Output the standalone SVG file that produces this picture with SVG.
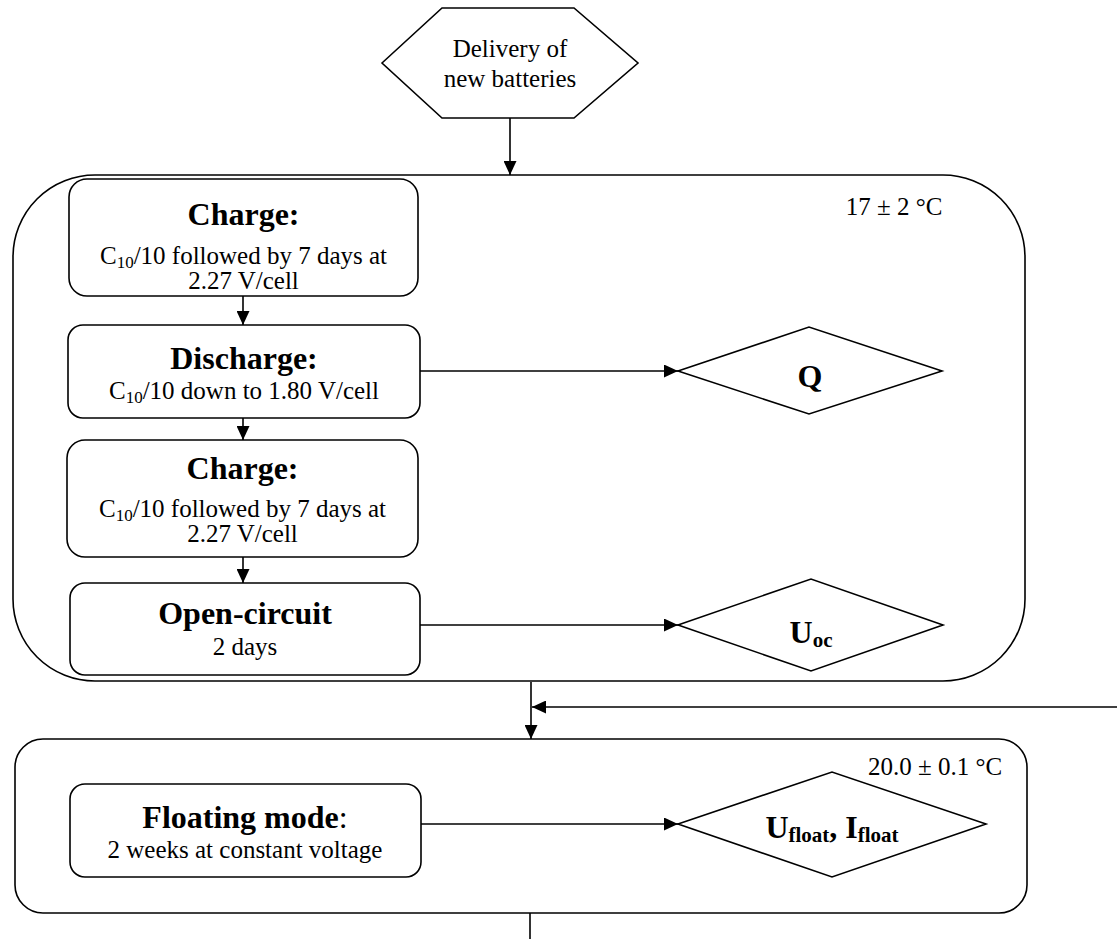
<svg xmlns="http://www.w3.org/2000/svg" width="1117" height="939" viewBox="0 0 1117 939">
<style>
.s{fill:#fff;stroke:#000;stroke-width:1.6}
.c{fill:none;stroke:#000;stroke-width:1.6}
text{font-family:"Liberation Serif","Times New Roman",serif;fill:#000;text-anchor:middle}
.t{font-size:25px}
.b{font-size:32px;font-weight:bold}
.sub{font-size:17px}
.bsub{font-size:21px;font-weight:bold}
</style>
<defs>
<marker id="ah" markerUnits="userSpaceOnUse" markerWidth="14" markerHeight="13" refX="14" refY="6.5" orient="auto">
<path d="M0,0 L14,6.5 L0,13 z" fill="#000"/>
</marker>
</defs>
<rect width="1117" height="939" fill="#fff"/>
<g id="stage1">
<rect class="s" x="13" y="175" width="1012" height="506" rx="82" ry="82"/>
<text class="t" x="894" y="215">17 ± 2 °C</text>
</g>
<g id="stage2">
<rect class="s" x="15" y="739" width="1012" height="174" rx="28" ry="28"/>
<text class="t" x="935" y="775">20.0 ± 0.1 °C</text>
</g>
<g id="delivery">
<polygon class="s" points="382,63 442,8 574,8 638,63 574,118 442,118"/>
<text class="t" x="510" y="57">Delivery of</text>
<text class="t" x="510" y="87">new batteries</text>
</g>
<g id="charge1">
<rect class="s" x="69" y="179" width="349" height="117" rx="18" ry="18"/>
<text class="b" x="243.5" y="225">Charge:</text>
<text class="t" x="243.5" y="264">C<tspan class="sub" dy="4">10</tspan><tspan dy="-4">/10 followed by 7 days at</tspan></text>
<text class="t" x="243.5" y="289">2.27 V/cell</text>
</g>
<g id="discharge">
<rect class="s" x="68" y="325" width="352" height="93" rx="15" ry="15"/>
<text class="b" x="244" y="369">Discharge:</text>
<text class="t" x="244" y="399">C<tspan class="sub" dy="4">10</tspan><tspan dy="-4">/10 down to 1.80 V/cell</tspan></text>
</g>
<g id="charge2">
<rect class="s" x="67" y="440" width="351" height="117" rx="18" ry="18"/>
<text class="b" x="242.5" y="479">Charge:</text>
<text class="t" x="242.5" y="517">C<tspan class="sub" dy="4">10</tspan><tspan dy="-4">/10 followed by 7 days at</tspan></text>
<text class="t" x="242.5" y="542">2.27 V/cell</text>
</g>
<g id="opencircuit">
<rect class="s" x="70" y="583" width="350" height="92" rx="15" ry="15"/>
<text class="b" x="245" y="624">Open-circuit</text>
<text class="t" x="245" y="655">2 days</text>
</g>
<g id="q">
<polygon class="s" points="678,371 809,327 942,371 809,414"/>
<text class="b" x="810" y="387">Q</text>
</g>
<g id="uoc">
<polygon class="s" points="678,625 811,579 943,625 811,671"/>
<text class="b" x="811" y="643">U<tspan class="bsub" dy="4">oc</tspan></text>
</g>
<g id="floating">
<rect class="s" x="70" y="784" width="351" height="93" rx="15" ry="15"/>
<text class="b" x="245" y="828">Floating mode<tspan style="font-weight:normal">:</tspan></text>
<text class="t" x="245" y="858">2 weeks at constant voltage</text>
</g>
<g id="ufloat">
<polygon class="s" points="678,824 832,772 986,824 832,877"/>
<text class="b" x="832" y="838">U<tspan class="bsub" dy="4">float</tspan><tspan dy="-4">, I</tspan><tspan class="bsub" dy="4">float</tspan></text>
</g>
<g id="connectors">
<line class="c" x1="510" y1="118" x2="510" y2="175" marker-end="url(#ah)"/>
<line class="c" x1="243" y1="296" x2="243" y2="325" marker-end="url(#ah)"/>
<line class="c" x1="243" y1="418" x2="243" y2="440" marker-end="url(#ah)"/>
<line class="c" x1="243" y1="557" x2="243" y2="583" marker-end="url(#ah)"/>
<line class="c" x1="420" y1="371" x2="678" y2="371" marker-end="url(#ah)"/>
<line class="c" x1="420" y1="625" x2="678" y2="625" marker-end="url(#ah)"/>
<line class="c" x1="531" y1="682" x2="531" y2="739" marker-end="url(#ah)"/>
<line class="c" x1="1117" y1="707" x2="532" y2="707" marker-end="url(#ah)"/>
<line class="c" x1="421" y1="824" x2="678" y2="824" marker-end="url(#ah)"/>
<line class="c" x1="530" y1="913" x2="530" y2="939"/>
</g>
</svg>
